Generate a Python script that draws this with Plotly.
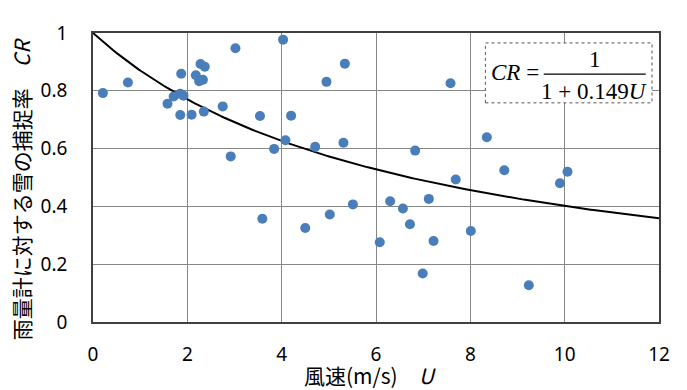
import numpy as np
import plotly.graph_objects as go

# Observed data: wind speed U (m/s) and snow catch ratio CR
wind_speed = [0.21, 0.74, 1.58, 1.71, 1.85, 1.92, 1.85, 2.09, 2.35, 1.87,
              2.18, 2.28, 2.37, 2.25, 2.33, 2.75, 3.02, 4.03, 3.54, 4.20,
              2.92, 3.84, 4.08, 4.71, 5.31, 4.95, 5.34, 7.58, 6.83, 8.35,
              8.72, 10.06, 9.90, 7.69, 3.59, 4.50, 5.02, 5.51, 6.08, 6.30,
              6.57, 6.72, 7.12, 7.22, 6.99, 8.01, 9.24]
catch_ratio = [0.792, 0.829, 0.755, 0.780, 0.790, 0.783, 0.716, 0.717, 0.728, 0.859,
               0.854, 0.893, 0.883, 0.833, 0.838, 0.746, 0.947, 0.977, 0.713, 0.714,
               0.573, 0.599, 0.629, 0.606, 0.620, 0.831, 0.894, 0.826, 0.593, 0.639,
               0.525, 0.520, 0.480, 0.493, 0.357, 0.325, 0.372, 0.407, 0.276, 0.418,
               0.393, 0.338, 0.426, 0.280, 0.168, 0.315, 0.127]

# Fitted model CR = 1 / (1 + k U), as printed on the chart
fit_coef = 0.149
x_ticks = [0, 2, 4, 6, 8, 10, 12]
y_ticks = [0, 0.2, 0.4, 0.6, 0.8, 1]
y_tick_labels = ["0", "0.2", "0.4", "0.6", "0.8", "1"]

u_fit = np.linspace(0, 12, 200)
cr_fit = 1.0 / (1.0 + fit_coef * u_fit)

fig = go.Figure()
fig.add_trace(go.Scatter(x=u_fit, y=cr_fit, mode="lines",
                         line=dict(color="black", width=2), hoverinfo="skip"))
fig.add_trace(go.Scatter(x=wind_speed, y=catch_ratio, mode="markers",
                         marker=dict(color="#4A7EBB", size=10)))

grid = "#868686"
tickfont = dict(family="Noto Sans", size=19, color="black")
fig.update_xaxes(range=[0, 12], tickvals=x_ticks, showgrid=True, gridcolor=grid,
                 gridwidth=1, showline=True, linecolor="#404040", linewidth=1.5,
                 mirror=True, zeroline=False, tickfont=tickfont, ticks="",
                 ticklabelstandoff=14)
fig.update_yaxes(range=[0, 1], tickvals=y_ticks, ticktext=y_tick_labels,
                 showgrid=True, gridcolor=grid, gridwidth=1, showline=True,
                 linecolor="#404040", linewidth=1.5, mirror=True, zeroline=False,
                 tickfont=tickfont, ticks="", ticklabelstandoff=20)

titlefont = dict(family="Noto Sans CJK JP", size=21, color="black")
annotations = [
    dict(text="風速(m/s)　<i>U</i>", xref="paper", yref="paper", x=0.49, y=-0.185,
         showarrow=False, font=titlefont, xanchor="center", yanchor="middle"),
    dict(text="雨量計に対する雪の捕捉率　<i>CR</i>", xref="paper", yref="paper",
         x=-0.127, y=0.46, textangle=-90, showarrow=False, font=titlefont,
         xanchor="center", yanchor="middle"),
]

# Equation box
serif = dict(family="Liberation Serif", size=23, color="black")
box_x0, box_x1 = (485.7 - 93.3) / 566, (652.3 - 93.3) / 566
box_y0, box_y1 = (322.3 - 93.3) / 302, (322.3 - 30.7) / 302
shapes = [
    dict(type="rect", xref="paper", yref="paper", x0=box_x0, x1=box_x1,
         y0=box_y0, y1=box_y1, line=dict(color="#555555", width=1, dash="dot"),
         fillcolor="white", layer="above"),
    dict(type="line", xref="paper", yref="paper",
         x0=(544 - 93.3) / 566, x1=(646 - 93.3) / 566,
         y0=(322.3 - 63.3) / 302, y1=(322.3 - 63.3) / 302,
         line=dict(color="black", width=1.2), layer="above"),
]
annotations += [
    dict(text="<i>CR</i> =", xref="paper", yref="paper", x=(489 - 93.3) / 566,
         y=(322.3 - 62) / 302, showarrow=False, font=serif, xanchor="left",
         yanchor="middle"),
    dict(text="1", xref="paper", yref="paper", x=(595 - 93.3) / 566,
         y=(322.3 - 48) / 302, showarrow=False, font=serif, xanchor="center",
         yanchor="middle"),
    dict(text="1 + 0.149<i>U</i>", xref="paper", yref="paper", x=(594 - 93.3) / 566,
         y=(322.3 - 81) / 302, showarrow=False, font=serif, xanchor="center",
         yanchor="middle"),
]

# The page body adds an 8px offset; margins compensate so the plot area
# lands at the same place as in the reference.
fig.update_layout(width=687, height=390, showlegend=False,
                  margin=dict(l=85, r=36, t=12, b=76),
                  plot_bgcolor="white", paper_bgcolor="white",
                  shapes=shapes, annotations=annotations)

fig.write_html("out.html")
